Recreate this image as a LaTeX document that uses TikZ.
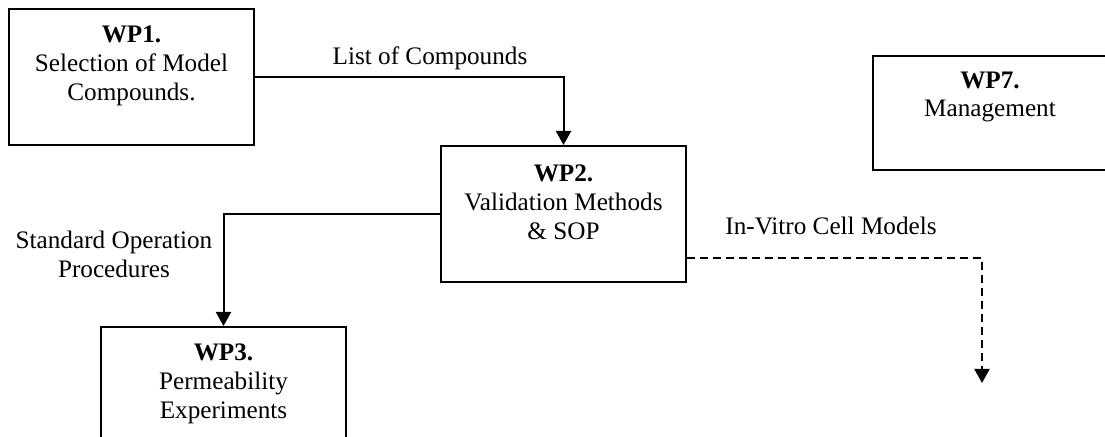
\documentclass[tikz,border=0pt]{standalone}
\usepackage{fontspec}
\setmainfont{Liberation Serif}
\usetikzlibrary{arrows.meta}
\begin{document}
\begin{tikzpicture}
  [x=0.5pt,y=-0.5pt,line width=1pt,every node/.style={font=\fontsize{12.6}{14.4}\selectfont,align=center,inner sep=0pt}]
  \tikzstyle{wp} = [draw,minimum width=122.5pt,minimum height=68pt]
  \tikzstyle{flow} = [-{Triangle[width=7.5pt,length=7pt]}]
  \useasboundingbox (0,0) rectangle (1105,437);
  % work package boxes
  \node[wp] (wp1) at (131.5,77.5) {};
  \node[wp] (wp2) at (563.5,214) {};
  \node[wp] (wp3) at (223.5,395) {};
  \node[wp,minimum height=57pt] (wp7) at (995.5,113) {};
  \node (wp1t) at (131.5,66) {\textbf{WP1.}\\Selection of Model\\Compounds.};
  \node (wp2t) at (563.5,202) {\textbf{WP2.}\\Validation Methods\\\& SOP};
  \node (wp3t) at (223.5,384) {\textbf{WP3.}\\Permeability\\Experiments};
  \node (wp7t) at (990,97) {\textbf{WP7.}\\Management};
  % flow labels
  \node[anchor=base] (lst) at (430,65) {List of Compounds};
  \node (sop) at (114,254) {Standard Operation\\Procedures};
  \node[anchor=base] (cell) at (831,235) {In-Vitro Cell Models};
  \coordinate (cellend) at (982,383);

\foreach \source/\dest in {wp1.east/wp2.north,wp2.west/wp3.north}
   \draw[flow] (\source) -| (\dest);
\draw[flow,dash pattern=on 4pt off 2.5pt] (wp2.east |- 0,258) -| (cellend);

\end{tikzpicture}
\end{document}
